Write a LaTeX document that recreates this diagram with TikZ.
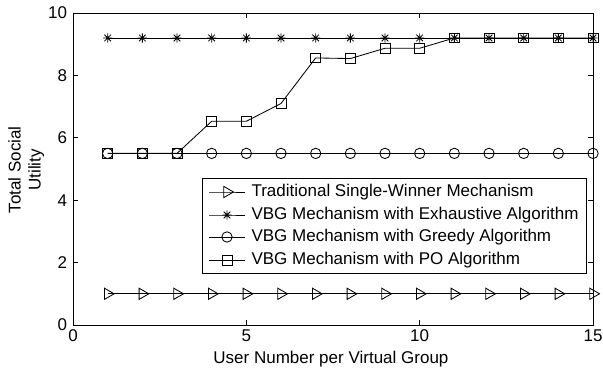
\documentclass[tikz,border=0pt]{standalone}
\usepackage{fontspec}
\setmainfont{Liberation Sans}
\usetikzlibrary{plotmarks}

\pgfdeclareplotmark{mstar}{%
  \pgfpathmoveto{\pgfqpoint{-\pgfplotmarksize}{0pt}}%
  \pgfpathlineto{\pgfqpoint{\pgfplotmarksize}{0pt}}%
  \pgfpathmoveto{\pgfqpoint{0pt}{-\pgfplotmarksize}}%
  \pgfpathlineto{\pgfqpoint{0pt}{\pgfplotmarksize}}%
  \pgfpathmoveto{\pgfqpoint{-.707\pgfplotmarksize}{-.707\pgfplotmarksize}}%
  \pgfpathlineto{\pgfqpoint{.707\pgfplotmarksize}{.707\pgfplotmarksize}}%
  \pgfpathmoveto{\pgfqpoint{-.707\pgfplotmarksize}{.707\pgfplotmarksize}}%
  \pgfpathlineto{\pgfqpoint{.707\pgfplotmarksize}{-.707\pgfplotmarksize}}%
  \pgfusepathqstroke}

\begin{document}
\begin{tikzpicture}[
    x=0.8667cm, y=0.78cm,
    font=\fontsize{12.1}{14.2}\selectfont,
    every node/.style={inner sep=1pt},
    series/.style={line width=0.6pt, black},
    trad/.style={series, mark=triangle, mark size=4.6pt, mark options={rotate=-90, fill=white}},
    exh/.style={series, mark=mstar, mark size=3.3pt},
    greedy/.style={series, mark=o, mark size=3.7pt},
    po/.style={series, mark=square, mark size=3.5pt},
    frame/.style={line width=0.7pt},
    tick/.style={line width=0.5pt}
]

\useasboundingbox (-2.106,-1.474) rectangle (15.288,10.417);

% data
\draw[trad] plot coordinates {(1,1)(2,1)(3,1)(4,1)(5,1)(6,1)(7,1)(8,1)(9,1)(10,1)(11,1)(12,1)(13,1)(14,1)(15,1)};
\draw[greedy] plot coordinates {(1,5.5)(2,5.5)(3,5.5)(4,5.5)(5,5.5)(6,5.5)(7,5.5)(8,5.5)(9,5.5)(10,5.5)(11,5.5)(12,5.5)(13,5.5)(14,5.5)(15,5.5)};
\draw[exh] plot coordinates {(1,9.2)(2,9.2)(3,9.2)(4,9.2)(5,9.2)(6,9.2)(7,9.2)(8,9.2)(9,9.2)(10,9.2)(11,9.2)(12,9.2)(13,9.2)(14,9.2)(15,9.2)};
\draw[po] plot coordinates {(1,5.5)(2,5.5)(3,5.5)(4,6.53)(5,6.53)(6,7.1)(7,8.56)(8,8.54)(9,8.87)(10,8.87)(11,9.2)(12,9.2)(13,9.2)(14,9.2)(15,9.2)};

% axes box and ticks
\draw[frame] (0,0) rectangle (15,10);
\foreach \x in {0,5,10,15} {
  \draw[tick] (\x,0) -- ++(0,0.125cm);
  \draw[tick] (\x,10) -- ++(0,-0.125cm);
  \node[anchor=north] (xt\x) at (\x,-0.1) {\x};
}
\foreach \y in {0,2,4,6,8,10} {
  \draw[tick] (0,\y) -- ++(0.125cm,0);
  \draw[tick] (15,\y) -- ++(-0.125cm,0);
  \node[anchor=east] (yt\y) at (-0.12,\y) {\y};
}

\node (xlabel) at (7.44,-1.09) {User Number per Virtual Group};
\node[rotate=90, align=center] (ylabel) at (-1.35,4.97) {Total Social\\Utility};

% legend
\node[draw, line width=0.7pt, fill=white, minimum width=11.076*0.8667cm, minimum height=3.045*0.78cm, anchor=north west, inner sep=0pt] (legend) at (3.721,4.712) {};
\draw[trad] plot[mark indices={2}] coordinates {(3.923,4.263)(4.442,4.263)(4.961,4.263)};
\draw[exh] plot[mark indices={2}] coordinates {(3.923,3.526)(4.442,3.526)(4.961,3.526)};
\draw[greedy] plot[mark indices={2}] coordinates {(3.923,2.821)(4.442,2.821)(4.961,2.821)};
\draw[po] plot[mark indices={2}] coordinates {(3.923,2.083)(4.442,2.083)(4.961,2.083)};
\node[anchor=west] (lt1) at (5.1,4.263) {Traditional Single-Winner Mechanism};
\node[anchor=west] (lt2) at (5.1,3.526) {VBG Mechanism with Exhaustive Algorithm};
\node[anchor=west] (lt3) at (5.1,2.821) {VBG Mechanism with Greedy Algorithm};
\node[anchor=west] (lt4) at (5.1,2.083) {VBG Mechanism with PO Algorithm};

\end{tikzpicture}
\end{document}
